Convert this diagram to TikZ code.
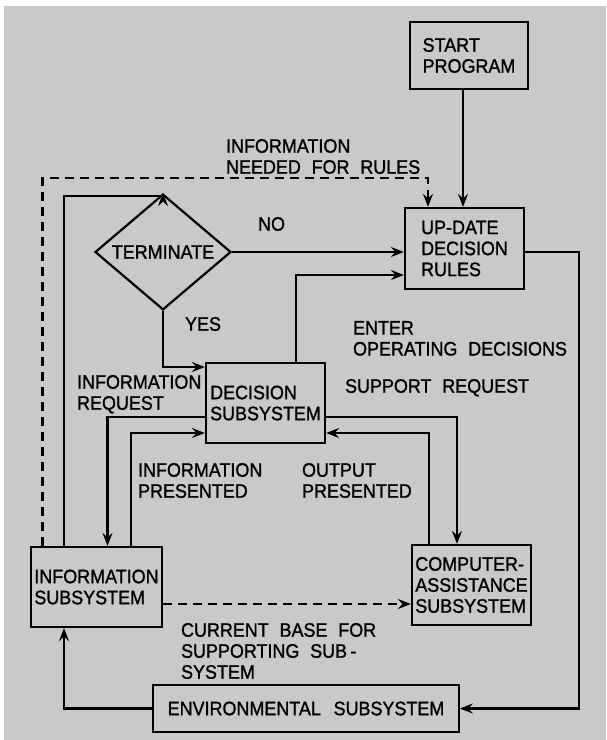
\documentclass[tikz,border=0pt]{standalone}
\usepackage{fontspec}
\setmainfont{Liberation Sans}[UprightFeatures={FakeBold=1.2,FakeStretch=0.92}]
\usetikzlibrary{arrows.meta,shapes.geometric}
\definecolor{paper}{RGB}{201,201,201}
\begin{document}
\begin{tikzpicture}[x=1pt,y=-1pt,
  line width=2.2pt,
  every node/.style={font=\fontsize{19.5}{21}\selectfont},
  box/.style={draw,rectangle,inner sep=0pt,align=left},
  lbl/.style={anchor=north west,inner sep=0pt,align=left},
  arr/.style={-{Stealth[length=13pt,width=10pt,inset=4.5pt]}},
  dashline/.style={dash pattern=on 9pt off 6pt}]
  % page and paper
  \useasboundingbox (0,0) rectangle (606,740);
  \fill[white] (0,0) rectangle (606,740);
  \fill[paper] (4,6) rectangle (606,740);

  % blocks
  \node[box,minimum width=118pt,minimum height=67pt] (start) at (469,55.5) {START\\PROGRAM};
  \node[box,minimum width=119pt,minimum height=81pt] (update) at (464.5,248.5) {UP-DATE\\DECISION\\RULES};
  \node[draw,shape=diamond,minimum width=136pt,minimum height=80pt,inner sep=0pt] (term) at (163,252) {TERMINATE};
  \node[box,minimum width=119pt,minimum height=80pt] (decision) at (265.5,403) {DECISION\\SUBSYSTEM};
  \node[box,minimum width=131pt,minimum height=80pt] (info) at (96.5,587) {INFORMATION\\SUBSYSTEM};
  \node[box,minimum width=119pt,minimum height=80pt] (comp) at (471.5,585) {COMPUTER-\\ASSISTANCE\\SUBSYSTEM};
  \node[box,minimum width=305.5pt,minimum height=47pt] (env) at (306,708.5) {ENVIRONMENTAL\hspace{0.4em} SUBSYSTEM};

  % routing points
  \coordinate (xs) at (463,0);
  \coordinate (dl) at (42.5,178);
  \coordinate (dr) at (428,178);
  \coordinate (lt) at (64,196);
  \coordinate (ed) at (296,275);
  \coordinate (yes) at (163,367);
  \coordinate (ir) at (107.5,417);
  \coordinate (ip) at (131,433);
  \coordinate (sr) at (457,417);
  \coordinate (op) at (429,433);
  \coordinate (cb) at (0,604);
  \coordinate (rr) at (579,252);

  % connectors
  \draw[arr] (start.south -| xs) -- (update.north -| xs);
  \draw[arr,dashline] (info.north -| dl) -- (dl) -- (dr) -- (update.north -| dr);
  \draw[arr] (info.north -| lt) -- (lt) -| (term.north);
  \draw[arr] (term.east) -- (term.east -| update.west);
  \draw[arr] (decision.north -| ed) |- (update.west |- ed);
  \draw[arr] (term.south) |- (decision.west |- yes);
  \draw[arr] (decision.west |- ir) -| (info.north -| ir);
  \draw[arr] (info.north -| ip) |- (decision.west |- ip);
  \draw[arr] (decision.east |- sr) -| (comp.north -| sr);
  \draw[arr] (comp.north -| op) |- (decision.east |- op);
  \draw[arr,dashline] (info.east |- cb) -- (comp.west |- cb);
  \draw[arr] (update.east |- rr) -| (rr |- env.east) -- (env.east);
  \draw[arr] (env.west) -| (info.south -| lt);

  % labels
  \node[lbl] (lneed) at (225,138) {INFORMATION\\NEEDED\hspace{0.3em} FOR\hspace{0.3em} RULES};
  \node[lbl] (lno) at (257,216) {NO};
  \node[lbl] (lyes) at (184,316) {YES};
  \node[lbl] (lenter) at (352,320) {ENTER\\OPERATING\hspace{0.3em} DECISIONS};
  \node[lbl] (lreq) at (76,374) {INFORMATION\\REQUEST};
  \node[lbl] (lsup) at (344,378) {SUPPORT\hspace{0.3em} REQUEST};
  \node[lbl] (lpres) at (137,462) {INFORMATION\\PRESENTED};
  \node[lbl] (lout) at (301,462) {OUTPUT\\PRESENTED};
  \node[lbl] (lbase) at (180,622) {CURRENT\hspace{0.3em} BASE\hspace{0.3em} FOR\\SUPPORTING\hspace{0.3em} SUB\,-\\SYSTEM};
\end{tikzpicture}
\end{document}
